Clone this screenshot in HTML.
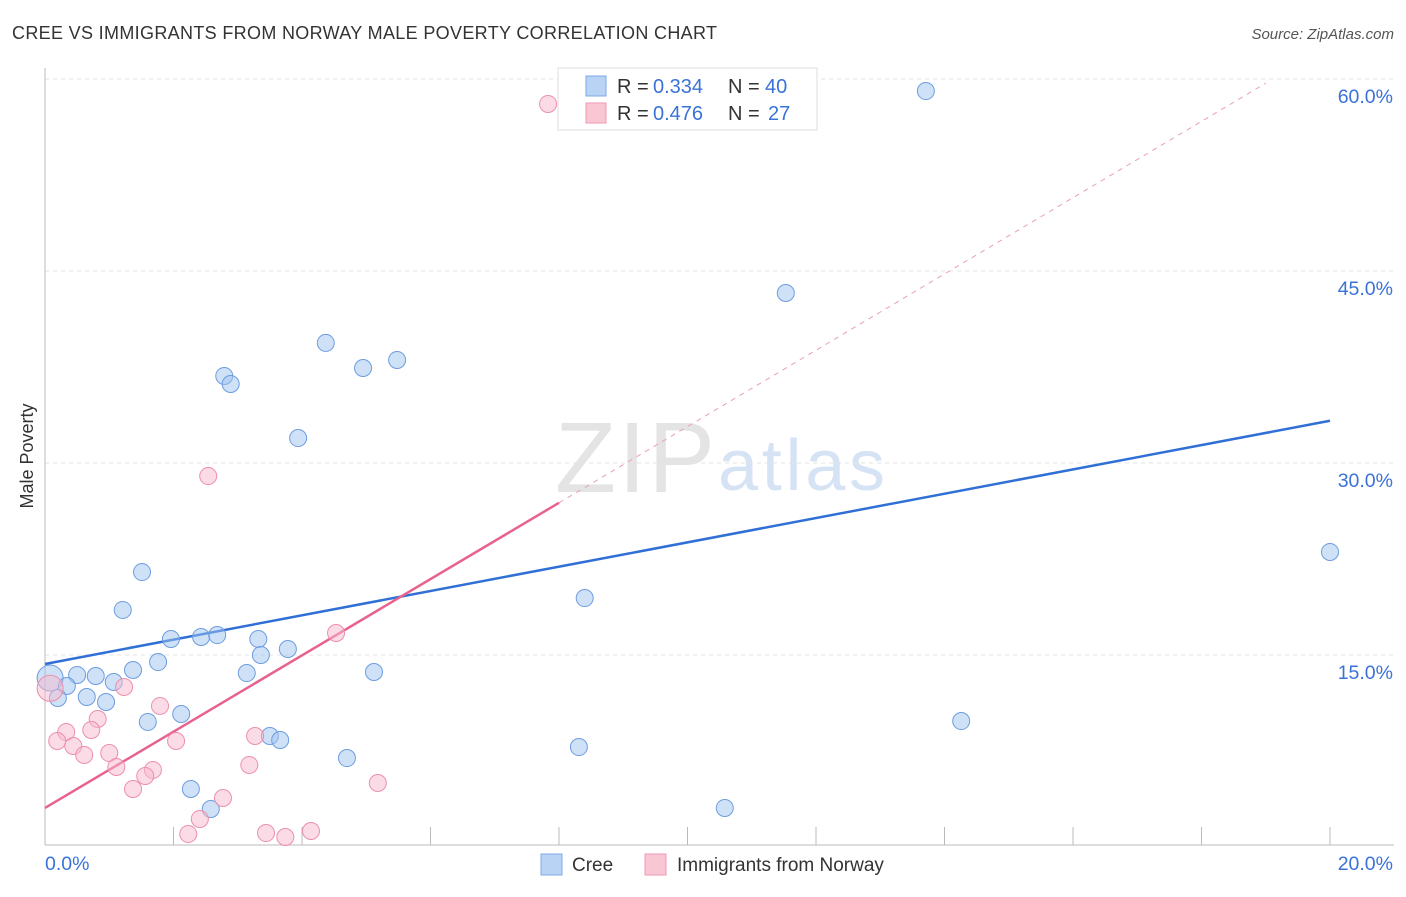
<!DOCTYPE html>
<html><head><meta charset="utf-8"><style>
body{margin:0;background:#fff;font-family:"Liberation Sans",sans-serif;}
svg text{font-family:"Liberation Sans",sans-serif;}
</style></head><body>
<svg id="chart" width="1406" height="892" viewBox="0 0 1406 892">
<text x="12" y="39" font-size="18" fill="#333" textLength="705">CREE VS IMMIGRANTS FROM NORWAY MALE POVERTY CORRELATION CHART</text>
<text x="1394" y="39" font-size="15" fill="#555" font-style="italic" text-anchor="end">Source: ZipAtlas.com</text>
<text x="715" y="492" font-size="100" fill="#e4e4e4" text-anchor="end" font-family="Liberation Serif" textLength="160">ZIP</text>
<text x="718" y="490" font-size="72" fill="#d6e3f5" textLength="167">atlas</text>
<g id="grid"></g><g id="axes"></g><g id="lines"></g><g id="pts"></g>
<text x="33" y="456" font-size="18" fill="#333" text-anchor="middle" transform="rotate(-90 33 456)">Male Poverty</text>
<g>
<rect x="558" y="68" width="259" height="62" fill="#fff" stroke="#ddd"/>
<rect x="586" y="76" width="20" height="20" fill="#b9d3f5" stroke="#7ea9e6"/>
<rect x="586" y="103" width="20" height="20" fill="#f9c6d4" stroke="#ee9ab3"/>
<text x="617" y="93" font-size="20" fill="#333">R = </text><text x="653" y="93" font-size="20" fill="#3a73d8">0.334</text>
<text x="728" y="93" font-size="20" fill="#333">N = </text><text x="765" y="93" font-size="20" fill="#3a73d8">40</text>
<text x="617" y="120" font-size="20" fill="#333">R = </text><text x="653" y="120" font-size="20" fill="#3a73d8">0.476</text>
<text x="728" y="120" font-size="20" fill="#333">N = </text><text x="768" y="120" font-size="20" fill="#3a73d8">27</text>
</g>
<g>
<rect x="541" y="854" width="21" height="21" fill="#b9d3f5" stroke="#7ea9e6"/>
<text x="572" y="871" font-size="19" fill="#333">Cree</text>
<rect x="645" y="854" width="21" height="21" fill="#f9c6d4" stroke="#ee9ab3"/>
<text x="677" y="871" font-size="19" fill="#333">Immigrants from Norway</text>
</g>
</svg>
<script>
const xTicks=[0,20];
const yTicks=[15,30,45,60];
const creeX=[13.71,11.53,4.37,5.48,4.95,2.79,2.89,3.94,1.51,20,8.40,1.21,1.96,2.43,2.68,3.32,3.36,3.78,1.76,1.37,3.14,5.12,0.50,0.79,0.08,0.34,1.07,0.20,0.65,0.95,2.12,1.60,14.26,3.50,3.66,8.31,4.70,2.27,2.58,10.58];
const creeY=[59.06,43.28,39.38,38.05,37.42,36.80,36.17,31.95,21.48,23.05,19.45,18.52,16.25,16.41,16.56,16.25,15.0,15.47,14.45,13.83,13.59,13.67,13.44,13.36,13.2,12.58,12.89,11.64,11.72,11.33,10.39,9.77,9.84,8.67,8.36,7.81,6.95,4.53,2.97,3.05];
const norX=[7.83,2.54,4.53,1.23,0.08,1.79,0.82,0.33,0.72,0.19,0.44,2.04,3.27,0.61,1.0,1.11,3.18,1.68,1.56,5.18,1.37,2.77,2.41,2.23,3.44,3.74,4.14];
const norY=[58.05,28.98,16.72,12.5,12.4,11.02,10.0,8.98,9.14,8.28,7.89,8.28,8.67,7.19,7.34,6.25,6.41,6.02,5.55,5.0,4.53,3.83,2.19,1.02,1.09,0.78,1.25];
const creeFit=[14.3,33.3];
const norFit=[3.05,2.98];
const NS='http://www.w3.org/2000/svg';
const sx=v=>45+v*64.25, sy=v=>847-v*12.8;
function mk(t,a,p){const e=document.createElementNS(NS,t);for(const k in a)e.setAttribute(k,a[k]);document.getElementById(p).appendChild(e);return e;}
yTicks.forEach(t=>{
 const g=mk('line',{x1:45,x2:1394,y1:sy(t),y2:sy(t),stroke:'#e3e3e3','stroke-dasharray':'4,4'},'grid');
 
 
 const l=mk('text',{x:1393,y:sy(t)+24,'font-size':19.5,fill:'#3a73d8','text-anchor':'end'},'axes');
 l.textContent=t.toFixed(1)+'%';
 
 
});
mk('line',{x1:45,x2:45,y1:68,y2:845,stroke:'#bbb'},'axes');
mk('line',{x1:45,x2:1394,y1:845,y2:845,stroke:'#bbb'},'axes');
for(let i=1;i<=10;i++){mk('line',{x1:sx(i*2),x2:sx(i*2),y1:827,y2:845,stroke:'#bbb'},'axes');}
xTicks.forEach((t,i)=>{
 const l=mk('text',{x:i?1393:45,y:870,'font-size':19.5,fill:'#3a73d8','text-anchor':i?'end':'start'},'axes');
 l.textContent=t.toFixed(1)+'%';
 
 
});
const bl=mk('line',{x1:sx(0),y1:sy(creeFit[0]),x2:sx(20),y2:sy(creeFit[1]),stroke:'#2f6fd6','stroke-width':2.5},'lines');


const pf=x=>norFit[0]+norFit[1]*x;
const pl=mk('line',{x1:sx(0),y1:sy(pf(0)),x2:sx(8),y2:sy(pf(8)),stroke:'#e8628e','stroke-width':2.5},'lines');


const pd=mk('line',{x1:sx(8),y1:sy(pf(8)),x2:sx(19),y2:sy(pf(19)),stroke:'#e8a0b6','stroke-width':1,'stroke-dasharray':'5,5'},'lines');


creeX.forEach((x,i)=>{
 const c=mk('circle',{cx:sx(x),cy:sy(creeY[i]),r:i===24?13:8.5,fill:'rgba(160,195,240,0.5)',stroke:'#6d9de0','stroke-width':1},'pts');
 
 
});
norX.forEach((x,i)=>{
 const c=mk('circle',{cx:sx(x),cy:sy(norY[i]),r:i===4?13:8.5,fill:'rgba(248,185,205,0.5)',stroke:'#ec8fae','stroke-width':1},'pts');
 
 
});
</script>
</body></html>
